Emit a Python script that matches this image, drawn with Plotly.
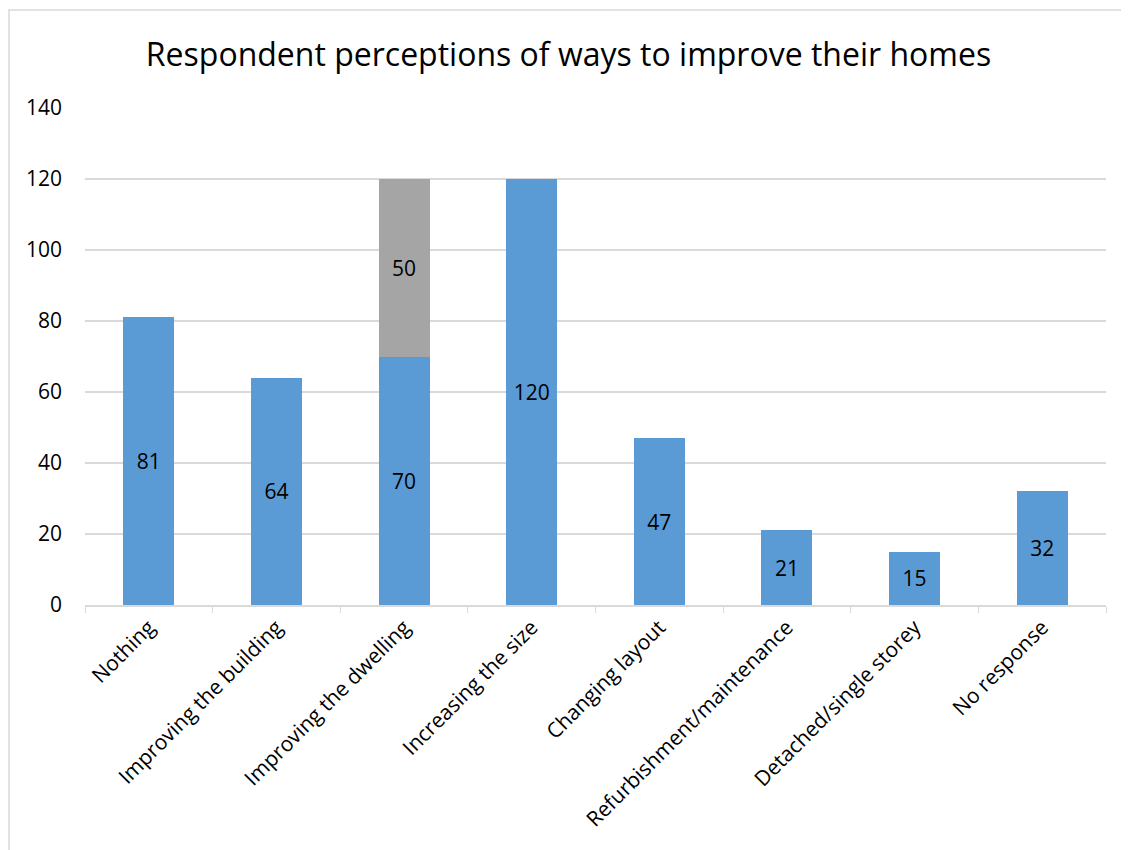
import plotly.graph_objects as go

categories = ["Nothing", "Improving the building", "Improving the dwelling", "Increasing the size",
              "Changing layout", "Refurbishment/maintenance", "Detached/single storey", "No response"]
series_main = [81, 64, 70, 120, 47, 21, 15, 32]
series_extra = [None, None, 50, None, None, None, None, None]
y_ticks = [0, 20, 40, 60, 80, 100, 120, 140]

FONT = "Open Sans, Lato, sans-serif"

fig = go.Figure()
fig.add_trace(go.Bar(
    x=categories, y=series_main, marker_color="#5B9BD5", marker_line_width=0,
    text=[str(v) for v in series_main], textposition="inside", insidetextanchor="middle",
    textfont=dict(color="black", size=21, family=FONT), textangle=0, width=0.4,
))
fig.add_trace(go.Bar(
    x=categories, y=series_extra, marker_color="#A5A5A5", marker_line_width=0,
    text=[str(v) if v is not None else "" for v in series_extra], textposition="inside",
    insidetextanchor="middle", textfont=dict(color="black", size=21, family=FONT), textangle=0,
    width=0.4,
))

# page has an 8px body offset; figure coordinates = page - 8
L, R, T, B = 77, 23, 100, 245
W, H = 1121, 842
pw, ph = W - L - R, H - T - B

fig.update_layout(
    barmode="stack",
    width=W, height=H,
    margin=dict(l=L, r=R, t=T, b=B, pad=0),
    paper_bgcolor="white", plot_bgcolor="white",
    showlegend=False,
    font=dict(family=FONT, color="black"),
    title=dict(text="Respondent perceptions of ways to improve their homes",
               x=0.5, xanchor="center", y=1 - 47 / H, yanchor="middle",
               font=dict(size=32, family=FONT, color="black")),
    xaxis=dict(tickangle=-45, tickfont=dict(size=21, family=FONT, color="black"),
               showgrid=False, showline=True, linecolor="#D9D9D9", linewidth=1.5,
               ticks="outside", tickson="boundaries", ticklen=6, tickcolor="#D9D9D9",
               range=[-0.5, 7.5]),
    yaxis=dict(range=[0, 140], tickvals=y_ticks, tickfont=dict(size=21, family=FONT, color="black"),
               showgrid=True, gridcolor="#D9D9D9", gridwidth=1.5, zeroline=False,
               showline=False, ticks="", ticklabelstandoff=22),
    shapes=[dict(type="rect", xref="paper", yref="paper",
                 x0=(1 - L) / pw, x1=(W + 20 - L) / pw,
                 y0=-(B + 20) / ph, y1=((H - B) - 2) / ph,
                 line=dict(color="#D9D9D9", width=1.5), fillcolor="rgba(0,0,0,0)", layer="below")],
)

fig.write_html("out.html")
